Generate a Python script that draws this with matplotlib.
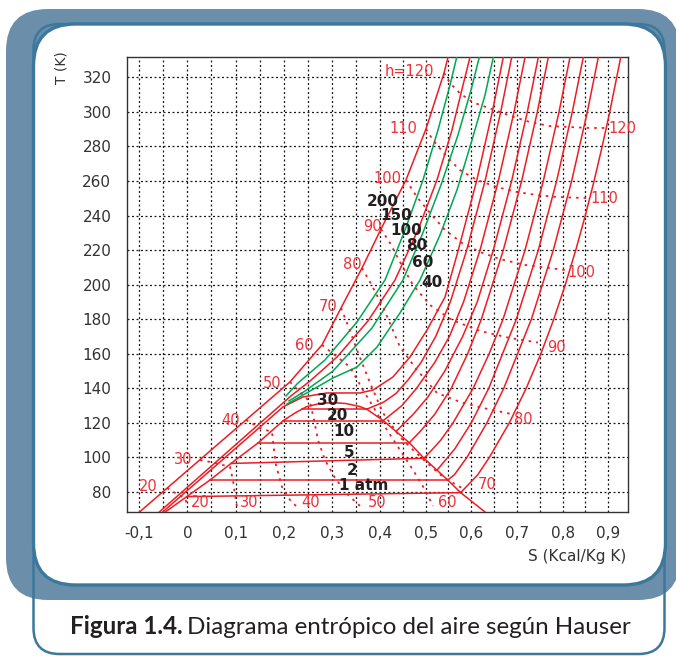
import numpy as np
import matplotlib
matplotlib.use("Agg")
import matplotlib.pyplot as plt
from matplotlib.patches import FancyBboxPatch

# ------------------------------------------------------------------ data
# Isobars (S in kcal/kg K, T in K)
p200_S = [-0.0996, 0.2130, 0.2795, 0.3190, 0.3626, 0.4022, 0.4569, 0.5007, 0.5402, 0.5489]
p200_T = [68.4, 143.7, 165.1, 186.5, 209.6, 232.2, 260.6, 290.1, 322.5, 331.6]
p150_S = [0.2047, 0.2297, 0.2857, 0.3522, 0.4110, 0.4548, 0.4942, 0.5270, 0.5533, 0.5680]
p150_T = [135.6, 143.1, 156.4, 178.4, 202.7, 231.6, 260.6, 289.5, 315.5, 331.6]
p100_S = [-0.0585, 0.2151, 0.2546, 0.3107, 0.3751, 0.4329, 0.4832, 0.5248, 0.5577, 0.5818, 0.5971]
p100_T = [68.4, 135.6, 144.2, 158.1, 179.0, 202.7, 231.6, 260.6, 289.5, 315.5, 331.6]
p80_S = [0.2110, 0.2442, 0.3024, 0.3834, 0.4504, 0.4920, 0.5336, 0.5708, 0.5993, 0.6175]
p80_T = [132.7, 138.4, 150.0, 174.9, 202.7, 228.7, 257.7, 286.6, 312.6, 331.6]
p60_S = [0.2068, 0.2546, 0.3024, 0.3522, 0.3938, 0.4438, 0.4876, 0.5314, 0.5686, 0.6015, 0.6300, 0.6481]
p60_T = [130.9, 138.4, 146.0, 152.3, 163.9, 183.6, 202.7, 228.7, 254.8, 283.7, 309.7, 331.6]
p40_S = [-0.0514, 0.1985, 0.2401, 0.2899, 0.3585, 0.3855, 0.4285, 0.4657, 0.5029, 0.5424, 0.5715, 0.6116, 0.6459, 0.6700]
p40_T = [68.4, 129.2, 135.0, 137.3, 137.3, 139.0, 146.6, 158.1, 173.7, 192.8, 220.0, 260.0, 299.9, 331.6]
p30_S = [0.3724, 0.4080, 0.4350, 0.4620, 0.4900, 0.5220, 0.5540, 0.5899, 0.6300, 0.6644, 0.6884]
p30_T = [127.9, 132.0, 137.0, 145.0, 155.0, 170.0, 190.0, 220.0, 260.0, 300.0, 331.6]
p20_S = [0.4072, 0.4480, 0.4800, 0.5200, 0.5520, 0.5830, 0.6191, 0.6592, 0.6936, 0.7176]
p20_T = [121.3, 130.0, 140.0, 155.0, 170.0, 190.0, 220.0, 260.0, 300.0, 331.6]
p15_S = [0.4350, 0.4730, 0.5050, 0.5420, 0.5810, 0.6130, 0.6482, 0.6883, 0.7227, 0.7467]
p15_T = [115.0, 125.0, 135.0, 150.0, 170.0, 190.0, 220.0, 260.0, 300.0, 331.6]
p10_S = [0.4642, 0.4880, 0.5200, 0.5560, 0.5920, 0.6220, 0.6701, 0.7102, 0.7446, 0.7686]
p10_T = [108.5, 115.0, 125.0, 140.0, 160.0, 180.0, 220.0, 260.0, 300.0, 331.6]
p5_S = [0.4964, 0.5160, 0.5330, 0.5600, 0.6040, 0.6390, 0.6695, 0.7176, 0.7577, 0.7921, 0.8161]
p5_T = [99.5, 105.0, 110.0, 120.0, 140.0, 160.0, 180.0, 220.0, 260.0, 300.0, 331.6]
p3_S = [0.5248, 0.5640, 0.6000, 0.6382, 0.6986, 0.7467, 0.7868, 0.8212, 0.8452]
p3_T = [92.6, 105.0, 120.0, 140.0, 180.0, 220.0, 260.0, 300.0, 331.6]
p2_S = [0.5483, 0.5630, 0.5904, 0.6341, 0.6711, 0.7315, 0.7796, 0.8197, 0.8541, 0.8781]
p2_T = [86.9, 90.0, 100.0, 120.0, 140.0, 180.0, 220.0, 260.0, 300.0, 331.6]
p1_S = [0.5767, 0.6142, 0.6395, 0.6832, 0.7202, 0.7523, 0.7806, 0.8059, 0.8287, 0.8496, 0.8688, 0.8866, 0.9032, 0.9272]
p1_T = [79.6, 90.0, 100.0, 120.0, 140.0, 160.0, 180.0, 200.0, 220.0, 240.0, 260.0, 280.0, 300.0, 331.6]

# Saturation dome
dome_S = [-0.0460, -0.0015, 0.0469, 0.0905, 0.1472, 0.1991, 0.2234, 0.2477, 0.2754, 0.3024,
          0.3294, 0.3585, 0.3724, 0.4072, 0.4642, 0.4964, 0.5483, 0.5767, 0.6300]
dome_T = [68.4, 77.3, 86.9, 96.5, 108.5, 121.3, 125.7, 129.4, 131.2, 131.7,
          131.2, 129.4, 127.9, 121.3, 108.5, 99.5, 86.9, 79.6, 68.4]

# Two-phase isobars (1, 2, 5, 10, 20, 30 atm)
sat_labels = ["1 atm", "2", "5", "10", "20", "30"]
sat_S_left = [-0.0015, 0.0469, 0.0905, 0.1472, 0.1991, 0.2380]
sat_S_right = [0.5767, 0.5483, 0.4964, 0.4642, 0.4072, 0.3724]
sat_T_left = [77.3, 86.9, 96.5, 108.5, 121.3, 127.9]
sat_T_right = [79.6, 86.9, 99.5, 108.5, 121.3, 127.9]

# Isenthalps (dotted)
h20_S = [-0.0425, -0.0217, -0.0051, 0.0012]
h20_T = [82.3, 78.8, 76.5, 71.3]
h30_S = [0.0261, 0.0573, 0.0884, 0.0946, 0.0988, 0.1030]
h30_T = [98.5, 96.8, 94.5, 86.9, 78.3, 71.3]
h40_S = [0.1216, 0.1507, 0.1757, 0.1798, 0.1840, 0.1964, 0.2130, 0.2276]
h40_T = [121.7, 117.0, 114.7, 104.3, 95.6, 82.9, 75.4, 71.3]
h50_S = [0.2130, 0.2338, 0.2546, 0.2629, 0.2712, 0.2857, 0.3065, 0.3335, 0.3585]
h50_T = [143.7, 137.9, 132.1, 121.7, 110.1, 98.5, 88.1, 78.3, 71.9]
h60_S = [0.2795, 0.3086, 0.3377, 0.3647, 0.3897, 0.4153, 0.4438, 0.4723, 0.4986, 0.5161]
h60_T = [165.1, 158.7, 152.3, 139.0, 127.5, 115.9, 104.3, 92.7, 81.2, 71.9]
h70_S = [0.3190, 0.3356, 0.3522, 0.3793, 0.4066, 0.4438, 0.4723, 0.5029, 0.5380, 0.5708, 0.5860]
h70_T = [186.5, 174.9, 162.2, 143.1, 125.7, 111.8, 104.3, 96.8, 88.7, 83.5, 81.5]
h80_S = [0.3626, 0.3793, 0.4066, 0.4438, 0.4810, 0.5248, 0.5752, 0.6256, 0.6900]
h80_T = [209.6, 201.5, 187.1, 163.9, 150.6, 137.3, 132.1, 128.6, 125.0]
h90_S = [0.4022, 0.4219, 0.4438, 0.4723, 0.5095, 0.5577, 0.6190, 0.6847, 0.7460]
h90_T = [232.2, 224.1, 213.1, 199.8, 188.2, 179.5, 173.2, 169.1, 166.5]
h100_S = [0.4569, 0.4810, 0.5095, 0.5424, 0.5796, 0.6190, 0.6628, 0.7176, 0.7723, 0.8052]
h100_T = [260.6, 250.7, 241.5, 231.6, 224.1, 218.9, 214.8, 211.4, 209.6, 208.5]
h110_S = [0.5007, 0.5161, 0.5467, 0.5752, 0.6124, 0.6562, 0.7000, 0.7438, 0.7876, 0.8555]
h110_T = [290.1, 283.7, 273.9, 266.3, 260.6, 256.5, 253.6, 251.9, 250.7, 250.1]
h120_S = [0.5402, 0.5533, 0.5752, 0.6037, 0.6409, 0.6847, 0.7285, 0.7723, 0.8161, 0.8599, 0.8949]
h120_T = [322.5, 316.7, 310.7, 305.5, 302.0, 297.8, 294.1, 291.8, 291.2, 290.7, 290.7]

# Axis ticks
x_ticks = [-0.1, 0.0, 0.1, 0.2, 0.3, 0.4, 0.5, 0.6, 0.7, 0.8, 0.9]
x_tick_labels = ["-0,1", "0", "0,1", "0,2", "0,3", "0,4", "0,5", "0,6", "0,7", "0,8", "0,9"]
x_minor = [-0.05, 0.05, 0.15, 0.25, 0.35, 0.45, 0.55, 0.65, 0.75, 0.85]
y_ticks = [80, 100, 120, 140, 160, 180, 200, 220, 240, 260, 280, 300, 320]

# Annotations: (text, S, T)
h_left_labels = [("20", -0.0819, 82.9), ("30", -0.0092, 98.5), ("40", 0.0905, 121.1),
                 ("50", 0.1767, 142.5), ("60", 0.2421, 164.5), ("70", 0.2920, 187.2),
                 ("80", 0.3418, 211.4), ("90", 0.3844, 233.5), ("100", 0.4164, 261.7),
                 ("110", 0.4515, 290.1), ("h=120", 0.4635, 323.1)]
h_end_labels = [("20", 0.0261, 73.9), ("30", 0.1279, 73.9), ("40", 0.2567, 73.9),
                ("50", 0.3938, 73.9), ("60", 0.5478, 73.9), ("70", 0.6354, 84.1),
                ("80", 0.7132, 121.7), ("90", 0.7854, 163.9), ("100", 0.8413, 207.3),
                ("110", 0.8905, 250.1), ("120", 0.9299, 290.1)]
p_high_labels = [("200", 0.4066, 248.0), ("150", 0.4361, 240.3), ("100", 0.4584, 231.6),
                 ("80", 0.4810, 222.4), ("60", 0.4942, 213.1), ("40", 0.5139, 201.5)]
p_sat_label_pos = [(0.3657, 83.5), (0.3429, 92.7), (0.3356, 103.1),
                   (0.3252, 114.9), (0.3107, 124.0), (0.2920, 132.9)]

# ------------------------------------------------------------------ style
RED = "#ED1C24"
RED_TXT = "#EF3038"
GREEN = "#00A651"
TXT = "#333333"
BLACK = "#231F20"
BLUE_OUT = "#6B8FAB"
BLUE_LINE = "#3C789B"

fig = plt.figure(figsize=(6.76, 6.56), dpi=100)
fig.patch.set_facecolor("white")

# background / frames in pixel coordinates
bg = fig.add_axes([0, 0, 1, 1])
bg.set_xlim(0, 676)
bg.set_ylim(656, 0)
bg.axis("off")
bg.set_zorder(0)
bg.add_patch(FancyBboxPatch((6, 9), 674, 591, boxstyle="round,pad=0,rounding_size=42",
                            fc=BLUE_OUT, ec="none", zorder=1))
bg.add_patch(FancyBboxPatch((33.5, 24), 631, 630, boxstyle="round,pad=0,rounding_size=26",
                            fc="none", ec=BLUE_LINE, lw=1.8, zorder=2))
bg.add_patch(FancyBboxPatch((33.5, 24), 632, 561, boxstyle="round,pad=0,rounding_size=42",
                            fc="white", ec=BLUE_LINE, lw=2.4, zorder=3))

# main axes
L, R, TOP, BOT = 127.3, 628.3, 57.3, 512.0
ax = fig.add_axes([L / 676, (656 - BOT) / 656, (R - L) / 676, (BOT - TOP) / 656])
ax.set_zorder(2)
ax.set_facecolor("white")

K = 456.6 / 481.4


def fwd(s):
    s = np.asarray(s, dtype=float)
    return np.where(s <= 0.4, s, 0.4 + (s - 0.4) * K)


def inv(u):
    u = np.asarray(u, dtype=float)
    return np.where(u <= 0.4, u, 0.4 + (u - 0.4) / K)


ax.set_xscale("function", functions=(fwd, inv))
ax.set_xlim(-0.1249, 0.9438)
ax.set_ylim(68.4, 331.6)
ax.set_xticks(x_ticks)
ax.set_xticklabels(x_tick_labels)
ax.set_xticks(x_minor, minor=True)
ax.set_yticks(y_ticks)
ax.set_yticklabels([str(v) for v in y_ticks])
ax.tick_params(which="both", length=0)
ax.tick_params(axis="x", pad=10, labelsize=11, labelcolor=TXT)
ax.tick_params(axis="y", pad=11.5, labelsize=11, labelcolor=TXT)
ax.set_axisbelow(True)
gstyle = dict(color="#1a1a1a", lw=0.9, linestyle=(0, (1.6, 2.0)))
ax.grid(True, which="both", axis="x", **gstyle)
ax.grid(True, which="major", axis="y", **gstyle)
for sp in ax.spines.values():
    sp.set_color("#333333")
    sp.set_linewidth(1.0)

# isobars
red_iso = [(p200_S, p200_T), (p100_S, p100_T), (p40_S, p40_T), (p30_S, p30_T),
           (p20_S, p20_T), (p15_S, p15_T), (p10_S, p10_T), (p5_S, p5_T),
           (p3_S, p3_T), (p2_S, p2_T), (p1_S, p1_T)]
green_iso = [(p150_S, p150_T), (p80_S, p80_T), (p60_S, p60_T)]
for s, t in red_iso:
    ax.plot(s, t, color=RED, lw=1.1, zorder=3)
for s, t in green_iso:
    ax.plot(s, t, color=GREEN, lw=1.1, zorder=3)
ax.plot(dome_S, dome_T, color=RED, lw=1.1, zorder=3)
for i in range(len(sat_labels)):
    ax.plot([sat_S_left[i], sat_S_right[i]], [sat_T_left[i], sat_T_right[i]],
            color=RED, lw=1.1, zorder=3)

# isenthalps
for s, t in [(h20_S, h20_T), (h30_S, h30_T), (h40_S, h40_T), (h50_S, h50_T),
             (h60_S, h60_T), (h70_S, h70_T), (h80_S, h80_T), (h90_S, h90_T),
             (h100_S, h100_T), (h110_S, h110_T), (h120_S, h120_T)]:
    ax.plot(s, t, color=RED, lw=1.3, linestyle=(0, (1.4, 2.8)), zorder=3)

# labels
for txt, s, t in h_left_labels + h_end_labels:
    ax.text(s, t, txt, color=RED_TXT, fontsize=10.5, ha="center", va="center", zorder=5)
for txt, s, t in p_high_labels:
    ax.text(s, t, txt, color=BLACK, fontsize=11, fontweight="bold",
            ha="center", va="center", zorder=5)
for txt, (s, t) in zip(sat_labels, p_sat_label_pos):
    ax.text(s, t, txt, color=BLACK, fontsize=11, fontweight="bold",
            ha="center", va="center", zorder=5)

# axis titles
bg.text(61.7, 68, "T (K)", rotation=90, ha="center", va="center", fontsize=10, color=TXT, zorder=6)
bg.text(626, 557, "S (Kcal/Kg K)", ha="right", va="center", fontsize=11, color=TXT, zorder=6)

# caption
cap_size = 15.5
t1 = bg.text(70, 627, "Figura 1.4.", family="Lato", fontweight="bold", fontsize=cap_size,
             ha="left", va="center", color=BLACK, zorder=6)
t2 = bg.text(0, 627, "Diagrama entrópico del aire según Hauser", family="Lato",
             fontsize=cap_size, ha="left", va="center", color=BLACK, zorder=6)
fig.canvas.draw()
rend = fig.canvas.get_renderer()
w1 = t1.get_window_extent(rend).width
t2.set_x(70 + w1 + 0.28 * cap_size)
fig.canvas.draw()
total = t2.get_window_extent(rend).x1 - 70
scale = 560.0 / total
if abs(scale - 1) > 0.02:
    cap_size *= scale
    t1.set_fontsize(cap_size)
    t2.set_fontsize(cap_size)
    fig.canvas.draw()
    w1 = t1.get_window_extent(rend).width
    t2.set_x(70 + w1 + 0.28 * cap_size)

fig.savefig("out.png", dpi=100, facecolor="white")
